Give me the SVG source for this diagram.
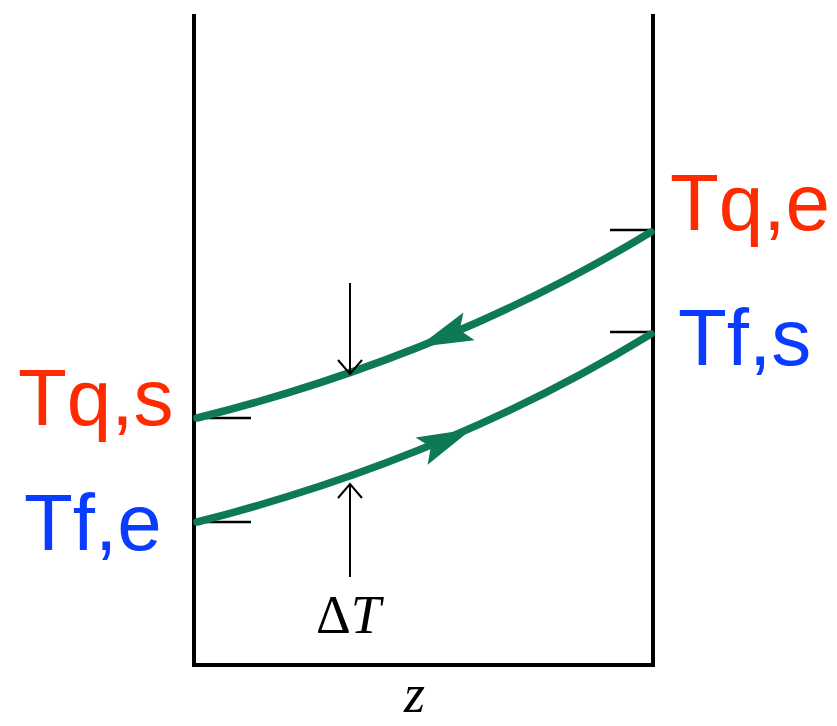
<svg xmlns="http://www.w3.org/2000/svg" width="837" height="726" viewBox="0 0 837 726">
<style>
.frame{fill:none;stroke:#000;stroke-width:4}
.tick{stroke:#000;stroke-width:2.5}
.curve{fill:none;stroke:#0d7a55;stroke-width:7.5;stroke-linecap:round}
.head{fill:#0d7a55}
.dim{stroke:#000;stroke-width:2;fill:none}
.lbl{font-family:"Liberation Sans",Arial,sans-serif;font-size:80px}
.red{fill:#ff2a00}
.blue{fill:#0a3cff}
.math{font-family:"Liberation Serif","Times New Roman",serif;font-size:54px;fill:#000}
</style>
<rect width="837" height="726" fill="#fff"/>
<g id="frame">
<polyline class="frame" points="194,14 194,665 653,665 653,14"/>
</g>
<g id="ticks">
<line class="tick" x1="194" y1="418" x2="251" y2="418"/>
<line class="tick" x1="194" y1="522" x2="251" y2="522"/>
<line class="tick" x1="610" y1="230" x2="653" y2="230"/>
<line class="tick" x1="610" y1="332" x2="653" y2="332"/>
</g>
<g id="connectors">
<path class="curve" d="M197,418 Q446,356 651,232"/>
<path class="curve" d="M197,522 Q446,459 651,334"/>
<polygon class="head" points="418,347 474.6,340.3 459.7,330.1 463.4,312.5"/>
<polygon class="head" points="472,429 415.6,437.4 430.8,447.1 427.6,464.8"/>
<path class="dim" d="M350,283 V374 M338,360 L350,374 L362,360"/>
<path class="dim" d="M350,577 V484 M338,498 L350,484 L362,498"/>
</g>
<g id="label-tqe"><text class="lbl red" x="670" y="230">Tq,e</text></g>
<g id="label-tfs"><text class="lbl blue" x="678" y="365">Tf,s</text></g>
<g id="label-tqs"><text class="lbl red" x="18" y="425">Tq,s</text></g>
<g id="label-tfe"><text class="lbl blue" x="24" y="550">Tf,e</text></g>
<g id="label-dt"><text class="math" x="316" y="633">Δ<tspan font-style="italic">T</tspan></text></g>
<g id="label-z"><text class="math" x="404" y="712" font-size="50" font-style="italic">z</text></g>
</svg>
